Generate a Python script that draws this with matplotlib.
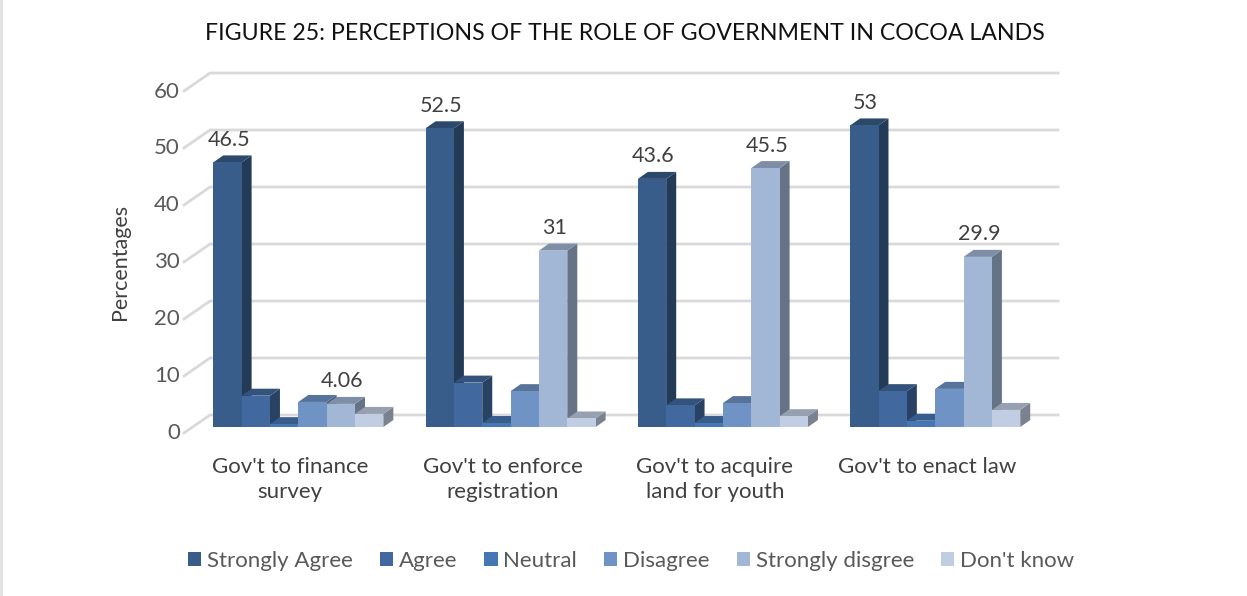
import matplotlib
matplotlib.use("Agg")
import matplotlib.pyplot as plt
from matplotlib.patches import Polygon, Patch
from matplotlib.transforms import ScaledTranslation
import matplotlib.colors as mc

categories = ["Gov't to finance\nsurvey", "Gov't to enforce\nregistration",
              "Gov't to acquire\nland for youth", "Gov't to enact law"]
series_names = ["Strongly Agree", "Agree", "Neutral", "Disagree", "Strongly disgree", "Don't know"]
strongly_agree = [46.5, 52.5, 43.6, 53]
agree = [5.5, 7.8, 3.8, 6.3]
neutral = [0.5, 0.7, 0.7, 1.1]
disagree = [4.4, 6.3, 4.2, 6.7]
strongly_disagree = [4.06, 31, 45.5, 29.9]
dont_know = [2.3, 1.5, 1.9, 3.0]
series_values = [strongly_agree, agree, neutral, disagree, strongly_disagree, dont_know]
value_labels = {(0, 0): "46.5", (0, 1): "52.5", (0, 2): "43.6", (0, 3): "53",
                (4, 0): "4.06", (4, 1): "31", (4, 2): "45.5", (4, 3): "29.9"}
colors = ["#385D8A", "#41699F", "#4677B5", "#7093C6", "#A2B6D6", "#C1CDE3"]
yticks = [0, 10, 20, 30, 40, 50, 60]

plt.rcParams['font.family'] = ['Lato', 'DejaVu Sans']
W, H = 1247, 596
fig = plt.figure(figsize=(W / 100, H / 100), dpi=100, facecolor="white")

# pixel geometry of plot box
L, R, T, B = 184, 1058, 73, 433
ax = fig.add_axes([L / W, 1 - B / H, (R - L) / W, (B - T) / H])
ppu = 5.69            # px per value
ppc = 212.3           # px per category
ax.set_ylim(-(B - 427) / ppu, (427 - T) / ppu)
ax.set_xlim((L - 298.3) / ppc, (R - 298.3) / ppc)
for s in ax.spines.values():
    s.set_visible(False)
ax.patch.set_alpha(0)

depth_x = 10 / ppc
depth_y = 7 / ppu
bw = 28.35 / ppc

# back wall gridlines and floor diagonals
grid_x0 = (210 - 298.3) / ppc
grid_x1 = (R - 298.3) / ppc
front_x = (L - 298.3) / ppc
for v in yticks:
    back = v * 5.7 / ppu + 12 / ppu
    front = v * 5.7 / ppu - 6 / ppu
    ax.plot([front_x, grid_x0, grid_x1], [front, back, back], color="#D9D9D9", lw=2,
            zorder=1, clip_on=False, solid_joinstyle="miter")

def shade(c, f):
    r, g, b = mc.to_rgb(c)
    return (r * f, g * f, b * f)

z = 2
for ci in range(len(categories)):
    for si, vals in enumerate(series_values):
        v = vals[ci]
        x0 = ci + (si - 3) * bw
        x1 = x0 + bw
        ax.add_patch(Polygon([(x1, 0), (x1 + depth_x, depth_y), (x1 + depth_x, v + depth_y), (x1, v)],
                             facecolor=shade(colors[si], 0.63), edgecolor="none", zorder=z))
        ax.add_patch(Polygon([(x0, v), (x0 + depth_x, v + depth_y), (x1 + depth_x, v + depth_y), (x1, v)],
                             facecolor=shade(colors[si], 0.78), edgecolor="none", zorder=z + 1))
        ax.bar(x0, v, width=bw, align="edge", color=colors[si], zorder=z + 2)
        if (si, ci) in value_labels:
            ax.annotate(value_labels[(si, ci)], (x0 + bw / 2, v), xytext=(1, 22.5 * 0.72),
                        textcoords="offset points", ha="center", va="center",
                        fontsize=15.5, color="#404040", zorder=100)
        z += 3

ax.set_xticks(range(len(categories)))
ax.set_xticklabels(categories, fontsize=16, color="#404040", linespacing=1.35)
ax.set_yticks(yticks)
ax.set_yticklabels([str(v) for v in yticks], fontsize=16, color="#595959")
ax.tick_params(axis="both", length=0)
ax.tick_params(axis="x", pad=17)
ax.tick_params(axis="y", pad=3)
px = fig.dpi_scale_trans
for lab in ax.get_xticklabels():
    lab.set_transform(lab.get_transform() + ScaledTranslation(-8 / 100, 0, px))
for lab in ax.get_yticklabels():
    lab.set_transform(lab.get_transform() + ScaledTranslation(0, -4 / 100, px))

fig.text(625 / W, 1 - 34 / H, "FIGURE 25: PERCEPTIONS OF THE ROLE OF GOVERNMENT IN COCOA LANDS",
         ha="center", va="center", fontsize=16.7, color="#111111")
fig.text(120 / W, 1 - 262 / H, "Percentages", rotation=90, ha="center", va="center",
         fontsize=15.5, color="#404040")

handles = [Patch(facecolor=c, edgecolor="none") for c in colors]
fig.legend(handles, series_names, loc="center", bbox_to_anchor=(631 / W, 1 - 561 / H), ncol=6,
           frameon=False, fontsize=16, labelcolor="#595959", handlelength=0.6, handleheight=0.6,
           handletextpad=0.25, columnspacing=1.22)

fig.add_artist(plt.Line2D([1 / W, 1 / W], [0, 1], color="#E0E0E0", lw=2))
fig.savefig("out.png", dpi=100, facecolor="white")
